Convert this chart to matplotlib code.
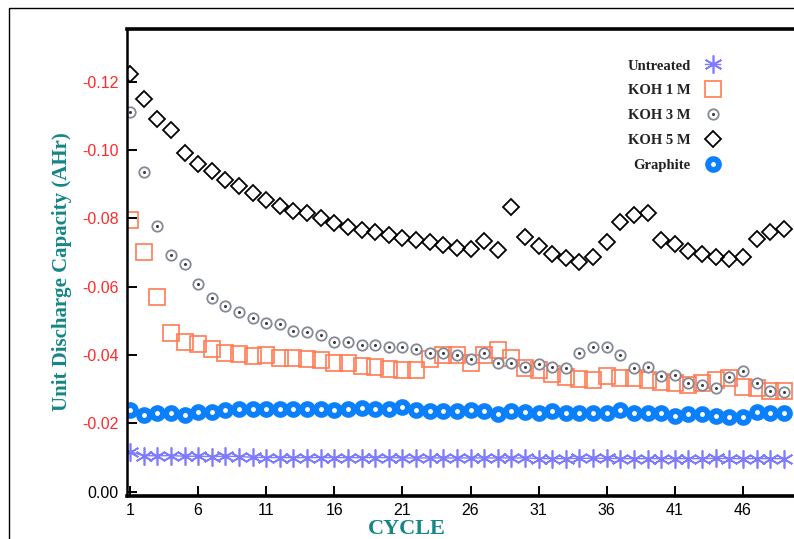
import numpy as np
import matplotlib
matplotlib.use("Agg")
import matplotlib.pyplot as plt
from matplotlib.patches import Rectangle
from matplotlib.legend_handler import HandlerTuple

plt.rcParams['axes.unicode_minus'] = False

cycles = np.arange(1, 50)

untreated = [-0.0117, -0.0106, -0.0105, -0.0106, -0.0104, -0.0104, -0.0103, -0.0104, -0.0103, -0.0101,
             -0.0100, -0.0100, -0.0100, -0.0100, -0.0100, -0.0100, -0.0100, -0.0100, -0.0100, -0.0100,
             -0.0099, -0.0099, -0.0099, -0.0099, -0.0099, -0.0099, -0.0099, -0.0099, -0.0099, -0.0099,
             -0.0097, -0.0097, -0.0097, -0.0098, -0.0098, -0.0098, -0.0097, -0.0097, -0.0097, -0.0097,
             -0.0097, -0.0097, -0.0097, -0.0098, -0.0097, -0.0097, -0.0097, -0.0097, -0.0097]

koh1 = [-0.0795, -0.0702, -0.0570, -0.0465, -0.0439, -0.0433, -0.0418, -0.0406, -0.0404, -0.0398,
        -0.0401, -0.0392, -0.0392, -0.0389, -0.0386, -0.0377, -0.0377, -0.0368, -0.0366, -0.0360,
        -0.0357, -0.0357, -0.0389, -0.0401, -0.0401, -0.0377, -0.0401, -0.0415, -0.0392, -0.0363,
        -0.0357, -0.0345, -0.0336, -0.0330, -0.0327, -0.0339, -0.0333, -0.0333, -0.0327, -0.0322,
        -0.0319, -0.0313, -0.0319, -0.0327, -0.0333, -0.0307, -0.0304, -0.0295, -0.0295]

koh3 = [-0.1111, -0.0936, -0.0778, -0.0693, -0.0667, -0.0608, -0.0567, -0.0544, -0.0526, -0.0509,
        -0.0494, -0.0491, -0.0471, -0.0468, -0.0459, -0.0439, -0.0439, -0.0430, -0.0430, -0.0424,
        -0.0424, -0.0418, -0.0406, -0.0406, -0.0401, -0.0389, -0.0406, -0.0377, -0.0377, -0.0366,
        -0.0374, -0.0366, -0.0363, -0.0406, -0.0424, -0.0424, -0.0401, -0.0363, -0.0366, -0.0339,
        -0.0342, -0.0319, -0.0313, -0.0304, -0.0336, -0.0354, -0.0319, -0.0295, -0.0292]

koh5 = [-0.1222, -0.1149, -0.1091, -0.1058, -0.0991, -0.0959, -0.0939, -0.0912, -0.0895, -0.0874,
        -0.0854, -0.0836, -0.0822, -0.0816, -0.0801, -0.0787, -0.0775, -0.0766, -0.0760, -0.0751,
        -0.0743, -0.0737, -0.0731, -0.0722, -0.0713, -0.0711, -0.0734, -0.0708, -0.0833, -0.0746,
        -0.0719, -0.0696, -0.0684, -0.0673, -0.0687, -0.0731, -0.0789, -0.0810, -0.0816, -0.0737,
        -0.0725, -0.0705, -0.0696, -0.0687, -0.0681, -0.0687, -0.0740, -0.0760, -0.0769]

graphite = [-0.0240, -0.0225, -0.0231, -0.0231, -0.0225, -0.0234, -0.0234, -0.0240, -0.0243, -0.0243,
            -0.0243, -0.0243, -0.0243, -0.0243, -0.0243, -0.0240, -0.0243, -0.0246, -0.0243, -0.0243,
            -0.0249, -0.0240, -0.0237, -0.0237, -0.0237, -0.0240, -0.0237, -0.0228, -0.0237, -0.0234,
            -0.0231, -0.0237, -0.0231, -0.0231, -0.0231, -0.0231, -0.0240, -0.0231, -0.0231, -0.0231,
            -0.0222, -0.0228, -0.0228, -0.0222, -0.0219, -0.0219, -0.0234, -0.0231, -0.0231]

xticks = [1, 6, 11, 16, 21, 26, 31, 36, 41, 46]
yticks = [-0.12, -0.10, -0.08, -0.06, -0.04, -0.02, 0.00]
ytick_labels = ['-0.12', '-0.10', '-0.08', '-0.06', '-0.04', '-0.02', '0.00']

teal = '#168585'

fig = plt.figure(figsize=(7.94, 5.39), dpi=100)
ax = fig.add_axes([0.16, 0.080, 0.84, 0.866])

# outer frame around the whole plot
fig.patches.append(Rectangle((0.0113, -0.2), 2, 1.185, transform=fig.transFigure,
                             fill=False, edgecolor='black', lw=1.0))

h_un, = ax.plot(cycles, untreated, color='#7f7bff', lw=1.0, marker=(6, 2, 0),
                ms=13, mew=1.2, label='Untreated')
h_k1, = ax.plot(cycles, koh1, ls='none', marker='s', ms=11.5, mfc='none',
                mec='#ff7b54', mew=1.2)
h_k3a, = ax.plot(cycles, koh3, ls='none', marker='o', ms=7.5, mfc='white',
                 mec='#858997', mew=1.3)
h_k3b, = ax.plot(cycles, koh3, ls='none', marker='o', ms=2.2, mfc='#3a3a3a',
                 mec='#3a3a3a', mew=0)
h_k5, = ax.plot(cycles, koh5, ls='none', marker='D', ms=7.8, mfc='none',
                mec='black', mew=1.3)
h_gr, = ax.plot(cycles, graphite, ls='none', marker='o', ms=7.8, mfc='white',
                mec='#0a80ff', mew=4.2)

ax.set_xlim(0.78, 49.75)
ax.set_ylim(0.0012, -0.1354)

ax.set_xticks(xticks)
ax.set_yticks(yticks)
ax.set_yticklabels(ytick_labels)
for lbl in ax.get_yticklabels():
    lbl.set_color('black' if lbl.get_text() == '0.00' else '#ff2a2a')

ax.tick_params(direction='in', length=7, width=1.4, pad=6,
               labelsize=11.5, labelfontfamily='Liberation Sans')
ax.tick_params(axis='x', pad=5)

ax.spines['right'].set_visible(False)
ax.spines['top'].set_linewidth(2.6)
ax.spines['bottom'].set_linewidth(2.6)
ax.spines['left'].set_linewidth(1.8)

ax.set_ylabel('Unit Discharge Capacity (AHr)', color=teal, fontsize=15,
              fontweight='bold', fontfamily='Liberation Serif')
ax.yaxis.set_label_coords(-0.082, 0.48)
ax.set_xlabel('CYCLE', color=teal, fontsize=16, fontweight='bold',
              fontfamily='Liberation Serif')
ax.xaxis.set_label_coords(0.42, -0.05)

leg = fig.legend([h_un, h_k1, (h_k3a, h_k3b), h_k5, h_gr],
                 ['Untreated', 'KOH 1 M', 'KOH 3 M', 'KOH 5 M', 'Graphite'],
                 handler_map={tuple: HandlerTuple(ndivide=1)},
                 loc='upper right', bbox_to_anchor=(0.916, 0.9035),
                 frameon=False, markerfirst=False, borderpad=0,
                 handlelength=1.0, handletextpad=1.0, labelspacing=0.8,
                 prop={'family': 'Liberation Serif', 'weight': 'bold', 'size': 10.5})
for t in leg.get_texts():
    t.set_color('#222222')

fig.savefig('out.png', dpi=100)
